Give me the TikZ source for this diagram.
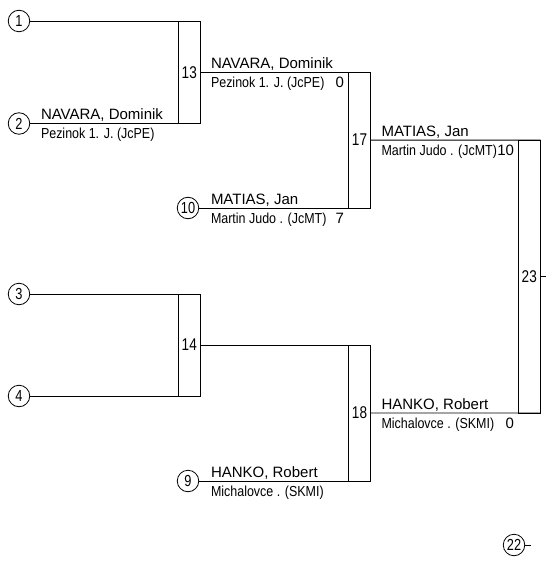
\documentclass[tikz,border=0pt]{standalone}
\usepackage{fontspec}
\setmainfont{Liberation Sans}
\newfontfamily\clubfont[FakeStretch=0.86]{Liberation Sans}
\newfontfamily\numfont[FakeStretch=0.8]{Liberation Sans}
\begin{document}
\begin{tikzpicture}[x=1pt,y=-1pt,line width=0.8pt,
  every node/.style={outer sep=0pt},
  seed/.style={circle, draw, inner sep=0pt, minimum size=21.5pt, font=\numfont\fontsize{16}{16}\selectfont},
  matchbox/.style={draw, rectangle, inner sep=0pt, minimum width=22.5pt, font=\numfont\fontsize{17}{17}\selectfont},
  pname/.style={anchor=base west, inner sep=0pt, font=\fontsize{15}{15}\selectfont},
  pclub/.style={anchor=base west, inner sep=0pt, font=\clubfont\fontsize{14.5}{14.5}\selectfont},
  pscore/.style={anchor=base east, inner sep=0pt, font=\fontsize{15}{15}\selectfont}]
\useasboundingbox (0,0) rectangle (546,572);

% seeds
\node[seed] (c1) at (19,21) {1};
\node[seed] (c2) at (19,123.5) {2};
\node[seed] (c3) at (19,294) {3};
\node[seed] (c4) at (19,396) {4};
\node[seed] (c10) at (188,208) {10};
\node[seed] (c9) at (188,481) {9};
\node[seed] (c22) at (514,545) {22};

% match boxes
\node[matchbox, minimum height=102.5pt] (b13) at (189.25,72.25) {13};
\node[matchbox, minimum height=102pt] (b14) at (189.25,345) {14};
\node[matchbox, minimum height=135.75pt] (b17) at (359.5,140.125) {17};
\node[matchbox, minimum height=136pt] (b18) at (359.5,413) {18};
\node[matchbox, minimum height=272.875pt] (b23) at (529.25,276.56) {23};

\coordinate (t23) at (546,276.56);
\coordinate (t22) at (531,545);

% connectors
\draw (c1.east) -- (b13.north east);
\draw (c2.east) -- (b13.south east);
\draw (c3.east) -- (b14.north east);
\draw (c4.east) -- (b14.south east);
\draw (b13.east) -- (b17.north east);
\draw (c10.east) -- (b17.south east);
\draw (b14.east) -- (b18.north east);
\draw (c9.east) -- (b18.south east);
\draw (b17.east) -- (b23.north east);
\draw (b18.east) -- (b23.south east);
\draw (b23.east) -- (t23);
\draw (c22.east) -- (t22);

% names and clubs
\node[pname] (n2) at (41,120) {NAVARA, Dominik};
\node[pclub] (k2) at (41,139) {Pezinok 1. J. (JcPE)};

\node[pname] (n13) at (211,68.8) {NAVARA, Dominik};
\node[pclub] (k13) at (211,87.8) {Pezinok 1. J. (JcPE)};
\node[pscore] (s13) at (344,87.8) {0};

\node[pname] (n10) at (211,204.5) {MATIAS, Jan};
\node[pclub] (k10) at (211,223.5) {Martin Judo . (JcMT)};
\node[pscore] (s10) at (344,223.5) {7};

\node[pname] (n9) at (211,477.5) {HANKO, Robert};
\node[pclub] (k9) at (211,496.5) {Michalovce . (SKMI)};

\node[pname] (n17) at (381.5,136.6) {MATIAS, Jan};
\node[pclub] (k17) at (381.5,155.6) {Martin Judo . (JcMT)};
\node[pscore] (s17) at (514,155.6) {10};

\node[pname] (n18) at (381.5,409.5) {HANKO, Robert};
\node[pclub] (k18) at (381.5,428.5) {Michalovce . (SKMI)};
\node[pscore] (s18) at (514,428.5) {0};
\end{tikzpicture}
\end{document}
